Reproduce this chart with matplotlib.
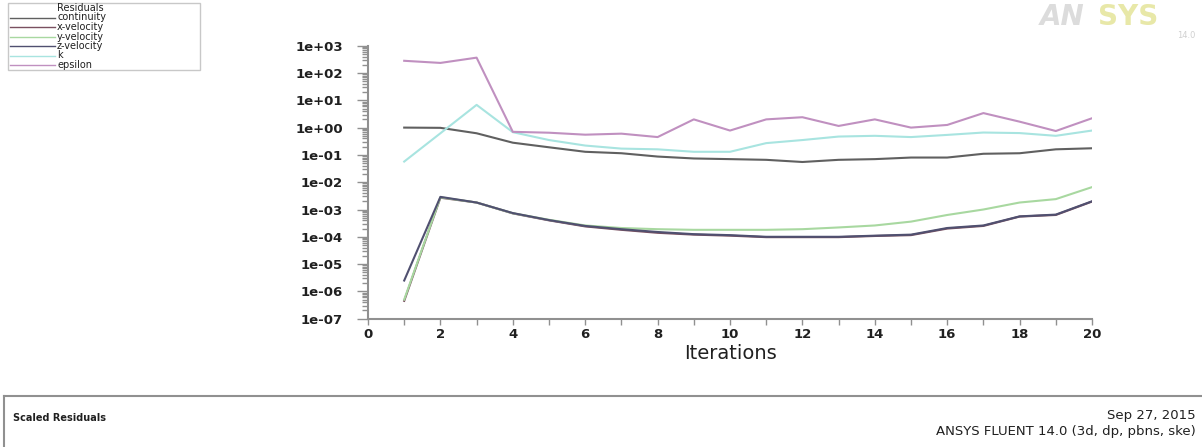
import matplotlib
matplotlib.use("Agg")
import matplotlib.pyplot as plt
from matplotlib.ticker import FixedLocator, LogLocator, NullFormatter


# ----------------------------
# Dados (lidos do gráfico de resíduos)
# ----------------------------
iterations = list(range(1, 21))

continuity = [1.0, 0.98, 0.62, 0.28, 0.19, 0.13, 0.115, 0.087, 0.074, 0.07,
              0.066, 0.055, 0.066, 0.07, 0.08, 0.08, 0.11, 0.115, 0.16, 0.175]
x_velocity = [4.5e-7, 2.7e-3, 1.8e-3, 7.2e-4, 4.0e-4, 2.4e-4, 1.8e-4, 1.4e-4, 1.2e-4, 1.1e-4,
              9.7e-5, 9.7e-5, 9.7e-5, 1.07e-4, 1.15e-4, 2.0e-4, 2.5e-4, 5.5e-4, 6.3e-4, 1.95e-3]
y_velocity = [5e-7, 2.8e-3, 1.8e-3, 7.3e-4, 4.2e-4, 2.6e-4, 2.1e-4, 1.9e-4, 1.8e-4, 1.8e-4,
              1.8e-4, 1.9e-4, 2.2e-4, 2.6e-4, 3.6e-4, 6.3e-4, 1.0e-3, 1.8e-3, 2.4e-3, 6.6e-3]
z_velocity = [2.5e-6, 2.9e-3, 1.8e-3, 7.4e-4, 4.1e-4, 2.5e-4, 1.9e-4, 1.5e-4, 1.25e-4, 1.15e-4,
              1.0e-4, 1.0e-4, 1.0e-4, 1.1e-4, 1.2e-4, 2.1e-4, 2.6e-4, 5.6e-4, 6.5e-4, 2.0e-3]
k = [0.057, 0.62, 6.8, 0.68, 0.35, 0.22, 0.17, 0.16, 0.13, 0.13,
     0.27, 0.35, 0.47, 0.5, 0.45, 0.54, 0.66, 0.63, 0.5, 0.78]
epsilon = [280, 234, 365, 0.7, 0.65, 0.55, 0.6, 0.45, 2.0, 0.78,
           2.0, 2.4, 1.15, 2.0, 1.0, 1.25, 3.4, 1.65, 0.75, 2.2]

series_names = ["continuity", "x-velocity", "y-velocity", "z-velocity", "k", "epsilon"]
series_values = [continuity, x_velocity, y_velocity, z_velocity, k, epsilon]
series_colors = ["#606060", "#7a5060", "#a8d8a0", "#505070", "#a8e4e0", "#c090c0"]

y_ticks = [1e3, 1e2, 1e1, 1e0, 1e-1, 1e-2, 1e-3, 1e-4, 1e-5, 1e-6, 1e-7]
x_ticks = [0, 2, 4, 6, 8, 10, 12, 14, 16, 18, 20]


# ----------------------------
# Figura
# ----------------------------
W, H = 1202, 447
fig = plt.figure(figsize=(W / 100, H / 100), dpi=100)
fig.patch.set_facecolor("white")

ax = fig.add_axes([368 / W, 1 - 318.7 / H, (1092 - 368) / W, (318.7 - 45.7) / H])

for name, vals, col in zip(series_names, series_values, series_colors):
    ax.plot(iterations, vals, color=col, lw=1.5, label=name)

ax.set_yscale("log")
ax.set_xlim(0, 20)
ax.set_ylim(1e-7, 1e3)

ax.yaxis.set_major_locator(FixedLocator(y_ticks))
ax.set_yticklabels([f"{v:.0e}" for v in y_ticks])
ax.yaxis.set_minor_locator(LogLocator(base=10, subs=range(2, 10), numticks=50))
ax.yaxis.set_minor_formatter(NullFormatter())
ax.set_xticks(x_ticks)
ax.set_xticks(range(1, 20, 2), minor=True)

for side in ["top", "right"]:
    ax.spines[side].set_visible(False)
for side in ["left", "bottom"]:
    ax.spines[side].set_color("#909090")
    ax.spines[side].set_linewidth(1.5)

ax.tick_params(axis="y", which="major", length=8, width=1, color="#909090", pad=10)
ax.tick_params(axis="y", which="minor", length=4, width=1, color="#909090")
ax.tick_params(axis="x", which="both", length=4, width=1, color="#909090", pad=3)
for lab in ax.get_xticklabels() + ax.get_yticklabels():
    lab.set_fontweight("bold")
    lab.set_fontsize(9.5)
    lab.set_color("#202020")

ax.set_xlabel("Iterations", fontsize=14, color="#202020", labelpad=2)


# ----------------------------
# Legenda estilo Fluent (canto superior esquerdo)
# ----------------------------
leg_y = [8, 17.5, 27, 36.5, 46, 55.5, 65]
fig.patches.append(plt.Rectangle((8 / W, 1 - 70 / H), 192 / W, 67 / H, transform=fig.transFigure,
                                 fill=False, edgecolor="#c8c8c8", lw=1))
fig.text(57 / W, 1 - leg_y[0] / H, "Residuals", fontsize=7, va="center", color="#202020")
for yy, name, col in zip(leg_y[1:], series_names, series_colors):
    fig.add_artist(plt.Line2D([10 / W, 55 / W], [1 - yy / H, 1 - yy / H],
                              transform=fig.transFigure, color=col, lw=1))
    fig.text(57 / W, 1 - yy / H, name, fontsize=7, va="center", color="#202020")


# ----------------------------
# Logo ANSYS (bem apagado)
# ----------------------------
fig.text(1040 / W, 1 - 17 / H, "AN", fontsize=20, fontweight="bold", style="italic",
         color="#dcdcdc", va="center")
fig.text(1098 / W, 1 - 17 / H, "SYS", fontsize=20, fontweight="bold",
         color="#e8e8a8", va="center")
fig.text(1195 / W, 1 - 36 / H, "14.0", fontsize=6, color="#d0d0d0", ha="right", va="center")


# ----------------------------
# Rodapé
# ----------------------------
fig.add_artist(plt.Line2D([4 / W, 1], [1 - 396 / H, 1 - 396 / H], transform=fig.transFigure,
                          color="#909090", lw=1.5))
fig.add_artist(plt.Line2D([4 / W, 4 / W], [0, 1 - 396 / H], transform=fig.transFigure,
                          color="#909090", lw=1.5))
fig.text(13 / W, 1 - 418 / H, "Scaled Residuals", fontsize=7, fontweight="bold",
         color="#202020", va="center")
fig.text(1196 / W, 1 - 415 / H, "Sep 27, 2015", fontsize=9.5, color="#202020",
         ha="right", va="center")
fig.text(1196 / W, 1 - 431 / H, "ANSYS FLUENT 14.0 (3d, dp, pbns, ske)", fontsize=9.5,
         color="#202020", ha="right", va="center")

fig.savefig("out.png", dpi=100)
